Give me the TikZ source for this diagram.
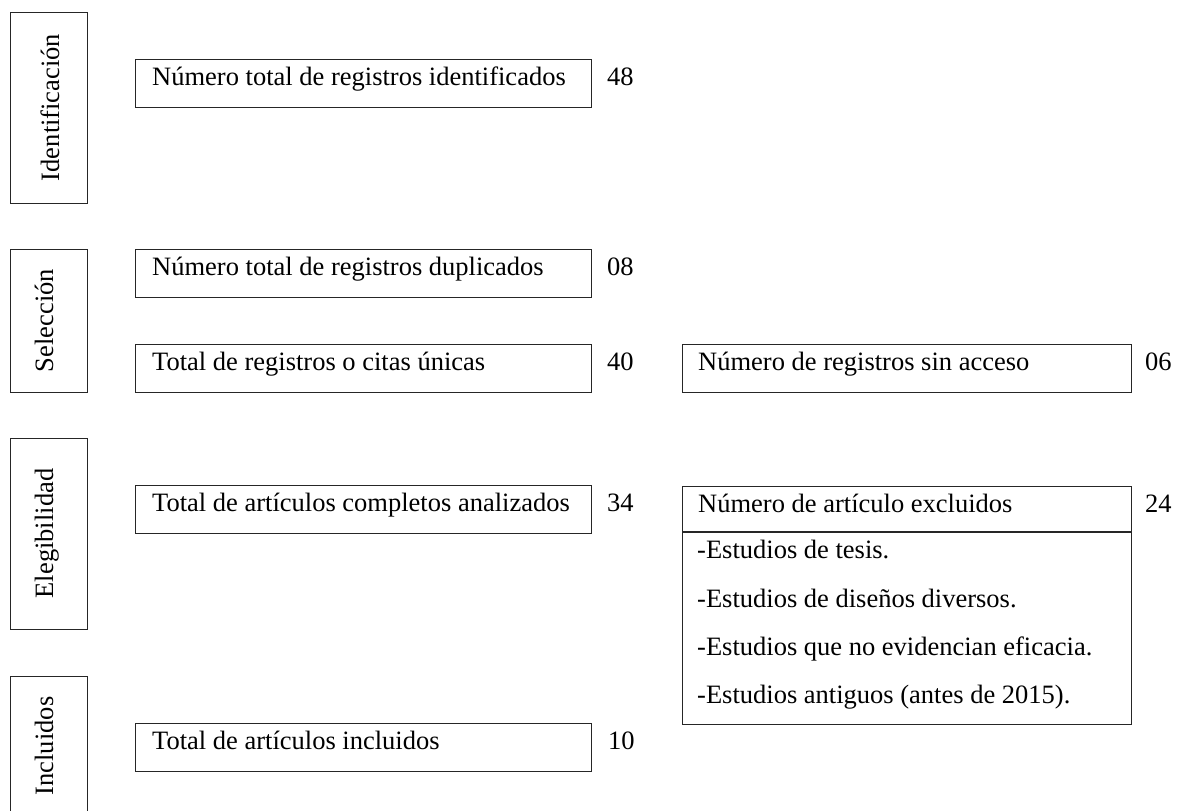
\documentclass[tikz,border=0pt]{standalone}
\usepackage{fontspec}
\setmainfont{Liberation Serif}
\begin{document}
\begin{tikzpicture}[x=1pt,y=-1pt,
  frame/.style={draw=black!85, line width=1.2pt, anchor=north west, inner sep=0pt},
  txt/.style={anchor=base west, inner sep=0pt, font=\fontsize{26.5}{30}\selectfont},
  vlabel/.style={anchor=base, rotate=90, inner sep=0pt, font=\fontsize{26.5}{30}\selectfont}]
\useasboundingbox (0,0) rectangle (1187,811);
\clip (0,0) rectangle (1187,811);
\fill[white] (0,0) rectangle (1187,811);

% stage label boxes
\node[frame, minimum width=77pt, minimum height=191pt] (sid) at (10,12) {};
\node[vlabel] (lid) at (59,107.5) {Identificación};
\node[frame, minimum width=77pt, minimum height=143pt] (ssel) at (10,249) {};
\node[vlabel] (lsel) at (53,320.5) {Selección};
\node[frame, minimum width=77pt, minimum height=191pt] (seleg) at (10,438) {};
\node[vlabel] (leleg) at (53,533.5) {Elegibilidad};
\node[frame, minimum width=77pt, minimum height=150pt] (sinc) at (10,676) {};
\node[vlabel] (linc) at (53,746) {Incluidos};

% middle column
\node[frame, minimum width=456pt, minimum height=48pt] (b1) at (135,59) {};
\node[txt] (t1) at ([shift={(17pt,-26pt)}]b1.north west) {Número total de registros identificados};
\node[txt] (n1) at (607,85) {48};

\node[frame, minimum width=456pt, minimum height=48pt] (b2) at (135,249) {};
\node[txt] (t2) at ([shift={(17pt,-26pt)}]b2.north west) {Número total de registros duplicados};
\node[txt] (n2) at (607,275) {08};

\node[frame, minimum width=456pt, minimum height=48pt] (b3) at (135,344) {};
\node[txt] (t3) at ([shift={(17pt,-26pt)}]b3.north west) {Total de registros o citas únicas};
\node[txt] (n3) at (607,370) {40};

\node[frame, minimum width=456pt, minimum height=48pt] (b4) at (135,485) {};
\node[txt] (t4) at ([shift={(17pt,-26pt)}]b4.north west) {Total de artículos completos analizados};
\node[txt] (n4) at (607,511) {34};

\node[frame, minimum width=456pt, minimum height=48pt] (b5) at (135,723) {};
\node[txt] (t5) at ([shift={(17pt,-26pt)}]b5.north west) {Total de artículos incluidos};
\node[txt] (n5) at (608,749) {10};

% right column
\node[frame, minimum width=449pt, minimum height=48pt] (r1) at (682,344) {};
\node[txt] (rt1) at ([shift={(16pt,-26pt)}]r1.north west) {Número de registros sin acceso};
\node[txt] (rn1) at (1145,370) {06};

\node[frame, minimum width=449pt, minimum height=238pt] (r2) at (682,486) {};
\coordinate (dl) at (682,532);
\coordinate (dr) at (1131,532);
\draw[black!85, line width=1.2pt] (dl) -- (dr);
\node[txt] (rt2) at ([shift={(16pt,-26pt)}]r2.north west) {Número de artículo excluidos};
\node[txt] (rn2) at (1145,512) {24};
\node[txt] (e1) at (697,558) {-Estudios de tesis.};
\node[txt] (e2) at (697,607) {-Estudios de diseños diversos.};
\node[txt] (e3) at (697,655) {-Estudios que no evidencian eficacia.};
\node[txt] (e4) at (697,703) {-Estudios antiguos (antes de 2015).};
\end{tikzpicture}
\end{document}
